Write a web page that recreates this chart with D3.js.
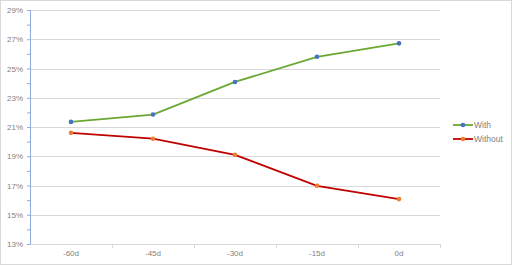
<!DOCTYPE html>
<html>
<head>
<meta charset="utf-8">
<script src="https://cdn.jsdelivr.net/npm/d3@7"></script>
<style>
  body { margin: 0; background: #fff; }
  svg { display: block; font-family: "Liberation Sans", Arial, sans-serif; }
</style>
</head>
<body>
<div id="chart"></div>
<script>
// chart values
const categories = ["-60d", "-45d", "-30d", "-15d", "0d"];
const withValues = [21.35, 21.85, 24.08, 25.8, 26.72];
const withoutValues = [20.6, 20.2, 19.1, 16.98, 16.07];
const seriesNames = ["With", "Without"];
const yTicks = [13, 15, 17, 19, 21, 23, 25, 27, 29];

const width = 512, height = 265;
const margin = { top: 10, right: 72, bottom: 21, left: 30 };
const innerW = width - margin.left - margin.right;
const innerH = height - margin.top - margin.bottom;
const textColor = "#7f7f7f";

const series = [
    { name: seriesNames[0], values: withValues, line: "#6aa832", dot: "#4472c4" },
    { name: seriesNames[1], values: withoutValues, line: "#c00000", dot: "#ed7d31" }
];

const svg = d3.select("#chart").append("svg")
    .attr("width", width)
    .attr("height", height);

// outer border
svg.append("rect")
    .attr("x", 0.5).attr("y", 0.5)
    .attr("width", width - 1).attr("height", height - 1)
    .attr("fill", "#fff")
    .attr("stroke", "#d9d9d9");

const g = svg.append("g").attr("transform", `translate(${margin.left},${margin.top})`);

const x = d3.scaleBand().domain(categories).range([0, innerW]);
const y = d3.scaleLinear().domain([13, 29]).range([innerH, 0]);

// gridlines
g.selectAll(".grid")
    .data(yTicks.slice(1))
    .join("line")
    .attr("x1", 0).attr("x2", innerW)
    .attr("y1", d => Math.round(y(d)) + 0.5)
    .attr("y2", d => Math.round(y(d)) + 0.5)
    .attr("stroke", "#d9d9d9");

// y axis
const yAxis = g.append("g")
    .call(d3.axisLeft(y).tickValues(d3.range(13, 29.5, 1)).tickSize(3).tickFormat(d => d % 2 === 1 ? d + "%" : ""));
yAxis.select(".domain").attr("stroke", "#8faadc");
yAxis.selectAll(".tick line").attr("stroke", "#8faadc");
yAxis.selectAll(".tick text")
    .attr("fill", textColor)
    .attr("font-size", 8)
    .attr("x", -7);

// x axis
const xAxis = g.append("g").attr("transform", `translate(0,${innerH})`)
    .call(d3.axisBottom(x).tickSize(0).tickPadding(6));
xAxis.select(".domain").attr("stroke", "#d9d9d9");
xAxis.selectAll(".tick text").attr("fill", textColor).attr("font-size", 8);

// tick marks between categories
g.selectAll(".xsep")
    .data(categories)
    .join("line")
    .attr("x1", d => Math.round(x(d) + x.bandwidth()) + 0.5)
    .attr("x2", d => Math.round(x(d) + x.bandwidth()) + 0.5)
    .attr("y1", innerH).attr("y2", innerH + 4)
    .attr("stroke", "#d9d9d9");

const line = d3.line()
    .x((d, i) => x(categories[i]) + x.bandwidth() / 2)
    .y(d => y(d));

series.forEach(s => {
    g.append("path")
        .datum(s.values)
        .attr("d", line)
        .attr("fill", "none")
        .attr("stroke", s.line)
        .attr("stroke-width", 1.8);
    g.selectAll(null)
        .data(s.values)
        .join("circle")
        .attr("cx", (d, i) => x(categories[i]) + x.bandwidth() / 2)
        .attr("cy", d => y(d))
        .attr("r", 2.3)
        .attr("fill", s.dot);
});

// legend
const legend = svg.append("g").attr("transform", "translate(453,125)");
series.forEach((s, i) => {
    const row = legend.append("g").attr("transform", `translate(0,${i * 14})`);
    row.append("line")
        .attr("x1", 0).attr("x2", 20)
        .attr("stroke", s.line).attr("stroke-width", 1.8);
    row.append("circle").attr("cx", 10).attr("r", 2.3).attr("fill", s.dot);
    row.append("text")
        .attr("x", 21).attr("y", 3)
        .attr("font-size", 8.5)
        .attr("fill", textColor)
        .text(s.name);
});
</script>
</body>
</html>
